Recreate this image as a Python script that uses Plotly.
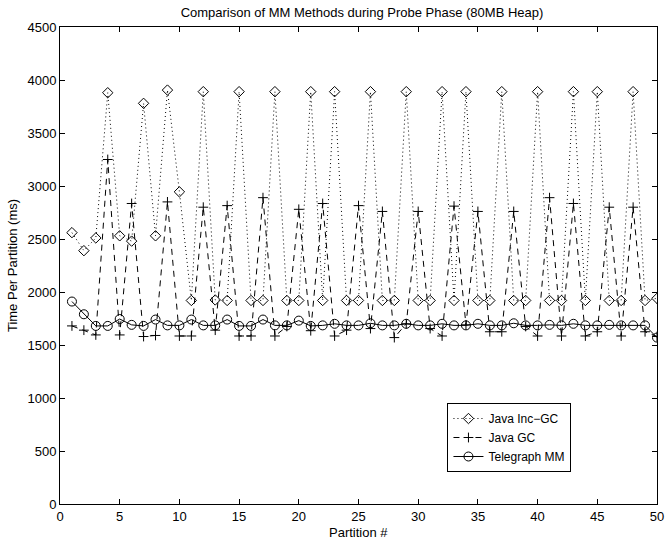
import plotly.graph_objects as go

partitions = list(range(1, 51))

java_inc_gc = [2560, 2390, 2510, 3880, 2530, 2480, 3780, 2530, 3905, 2945,
               1920, 3890, 1925, 1920, 3890, 1920, 1920, 3890, 1920, 1920,
               3890, 1920, 3890, 1920, 1920, 3890, 1920, 1920, 3890, 1920,
               1920, 3890, 1920, 3890, 1920, 1920, 3890, 1920, 1920, 3890,
               1920, 1920, 3890, 1920, 3890, 1920, 1920, 3890, 1920, 1940]

java_gc = [1680, 1640, 1595, 3250, 1595, 2835, 1580, 1590, 2850, 1585,
           1585, 2800, 1640, 2815, 1585, 1585, 2890, 1585, 1675, 2780,
           1635, 2835, 1585, 1640, 2815, 1655, 2760, 1570, 1700, 2760,
           1655, 1585, 2810, 1690, 2760, 1625, 1625, 2760, 1675, 1585,
           2890, 1585, 2835, 1585, 1625, 2800, 1585, 2800, 1625, 1580]

telegraph_mm = [1910, 1790, 1680, 1680, 1745, 1690, 1680, 1740, 1685, 1685,
                1740, 1685, 1685, 1740, 1680, 1680, 1740, 1685, 1685, 1730,
                1680, 1685, 1700, 1685, 1685, 1705, 1685, 1685, 1700, 1685,
                1685, 1700, 1685, 1685, 1700, 1685, 1685, 1705, 1685, 1685,
                1690, 1685, 1700, 1685, 1685, 1690, 1685, 1685, 1685, 1570]

x_ticks = [0, 5, 10, 15, 20, 25, 30, 35, 40, 45, 50]
y_ticks = [0, 500, 1000, 1500, 2000, 2500, 3000, 3500, 4000, 4500]

FONT = "Liberation Sans, Arial, Helvetica, sans-serif"
W, H = 671, 540
L, R, T, B = 60, 7, 27, 36
PW, PH = W - L - R, H - T - B

fig = go.Figure()
fig.add_trace(go.Scatter(
    x=partitions, y=java_inc_gc, name="Java Inc\u2212GC",
    mode="lines+markers",
    line=dict(color="black", width=1, dash="1px,3px"),
    marker=dict(symbol="diamond-open", size=8, color="black",
                line=dict(color="black", width=1)),
))
fig.add_trace(go.Scatter(
    x=partitions, y=java_gc, name="Java GC",
    mode="lines+markers",
    line=dict(color="black", width=1, dash="6px,5px"),
    marker=dict(symbol="cross-thin", size=7, color="black",
                line=dict(color="black", width=1)),
))
fig.add_trace(go.Scatter(
    x=partitions, y=telegraph_mm, name="Telegraph MM",
    mode="lines+markers",
    line=dict(color="black", width=1),
    marker=dict(symbol="circle-open", size=9, color="black",
                line=dict(color="black", width=1)),
))

axis_common = dict(
    showline=True, linecolor="black", linewidth=1, mirror="ticks",
    ticks="inside", ticklen=5, tickcolor="black", tickwidth=1,
    showgrid=False, zeroline=False, ticklabeloverflow="allow",
    tickfont=dict(family=FONT, size=13, color="black"),
)

fig.update_layout(
    width=W, height=H,
    margin=dict(l=L, r=R, t=T, b=B),
    paper_bgcolor="white", plot_bgcolor="white",
    font=dict(family=FONT, size=13, color="black"),
    title=dict(text="Comparison of MM Methods during Probe Phase (80MB Heap)",
               x=(L + PW / 2) / W, xanchor="center", y=1 - 12 / H, yanchor="middle",
               font=dict(family=FONT, size=13, color="black")),
    xaxis=dict(range=[0, 50], tickvals=x_ticks, **axis_common),
    yaxis=dict(range=[0, 4500], tickvals=y_ticks, **axis_common),
    showlegend=True,
    legend=dict(x=(452 - L) / PW, y=(H - B - 403) / PH, xanchor="left", yanchor="top",
                bgcolor="white", bordercolor="black", borderwidth=1,
                font=dict(family=FONT, size=12, color="black"),
                tracegroupgap=0, itemwidth=30),
    annotations=[
        dict(text="Partition #", xref="paper", yref="paper",
             x=0.5, y=-(532 - (H - B)) / PH, xanchor="center", yanchor="middle",
             showarrow=False, font=dict(family=FONT, size=13, color="black")),
        dict(text="Time Per Partition (ms)", xref="paper", yref="paper",
             x=-(L - 12) / PW, y=0.5, xanchor="center", yanchor="middle",
             textangle=-90, showarrow=False,
             font=dict(family=FONT, size=13, color="black")),
    ],
)

fig.write_html(
    "out.html",
    config={"displayModeBar": False},
    post_script="document.body.style.margin='0';document.body.style.overflow='hidden';",
)
